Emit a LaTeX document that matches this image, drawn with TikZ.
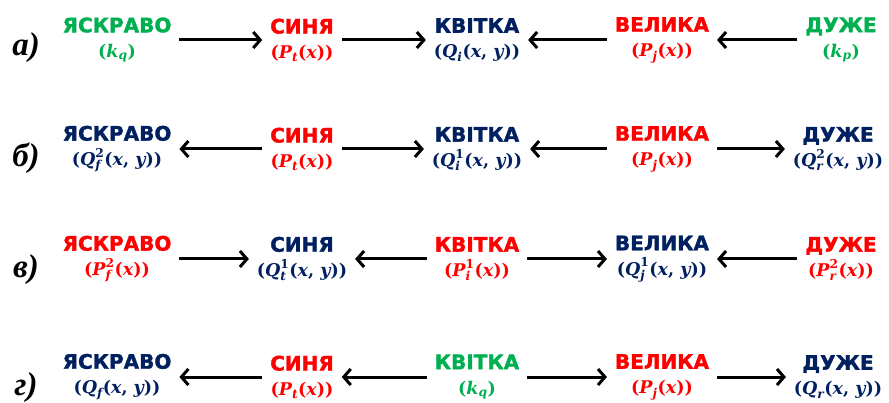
\documentclass[tikz,border=0pt]{standalone}
\usepackage{amsmath}
\usepackage{fontspec}
\usetikzlibrary{arrows.meta}
\newfontfamily\wordfont{DejaVu Sans Bold}[FakeBold=1.6]
\newfontfamily\labfont{Liberation Serif}
\newfontfamily\formfont{DejaVu Serif}
\definecolor{cgreen}{HTML}{00B050}
\definecolor{cred}{HTML}{FF0000}
\definecolor{cblue}{HTML}{002060}
\tikzset{
  term/.style={align=center, inner sep=1pt, outer sep=7pt,
    font=\fontsize{17.5}{25}\selectfont\formfont\bfseries},
  lab/.style={inner sep=0pt, font=\fontsize{33}{33}\selectfont\labfont\bfseries\itshape},
  conn/.style={-{Straight Barb[length=7pt,width=16pt,line width=3pt]}, line width=3pt, black},
}
\newcommand{\W}[1]{{\fontsize{20}{25}\selectfont\wordfont #1}}
\newcommand{\F}[1]{\textit{#1}}
\newcommand{\T}[1]{\text{#1}}
\begin{document}
\begin{tikzpicture}[x=1pt,y=-1pt]
\useasboundingbox (0,0) rectangle (889,403);
% row a
\node[lab] (la) at (26,48) {а)};
\node[term,text=cgreen] (a1) at (117,40) {\W{ЯСКРАВО}\\$\T{(}\F{k}_{\F{q}}\T{)}$};
\node[term,text=cred]   (a2) at (302,40) {\W{СИНЯ}\\$\T{(}\F{P}_{\F{t}}\T{(}\F{x}\T{))}$};
\node[term,text=cblue]  (a3) at (477,40) {\W{КВІТКА}\\$\T{(}\F{Q}_{\F{i}}\T{(}\F{x}\T{, }\F{y}\T{))}$};
\node[term,text=cred]   (a4) at (662,40) {\W{ВЕЛИКА}\\$\T{(}\F{P}_{\F{j}}\T{(}\F{x}\T{))}$};
\node[term,text=cgreen] (a5) at (841,40) {\W{ДУЖЕ}\\$\T{(}\F{k}_{\F{p}}\T{)}$};
\draw[conn] (a1) -- (a2);
\draw[conn] (a2) -- (a3);
\draw[conn] (a4) -- (a3);
\draw[conn] (a5) -- (a4);
% row b
\node[lab] (lb) at (26,158) {б)};
\node[term,text=cblue]  (b1) at (117,149) {\W{ЯСКРАВО}\\$\T{(}\F{Q}_{\F{f}}^{\T{2}}\T{(}\F{x}\T{, }\F{y}\T{))}$};
\node[term,text=cred]   (b2) at (302,149) {\W{СИНЯ}\\$\T{(}\F{P}_{\F{t}}\T{(}\F{x}\T{))}$};
\node[term,text=cblue]  (b3) at (477,149) {\W{КВІТКА}\\$\T{(}\F{Q}_{\F{i}}^{\T{1}}\T{(}\F{x}\T{, }\F{y}\T{))}$};
\node[term,text=cred]   (b4) at (662,149) {\W{ВЕЛИКА}\\$\T{(}\F{P}_{\F{j}}\T{(}\F{x}\T{))}$};
\node[term,text=cblue]  (b5) at (838,149) {\W{ДУЖЕ}\\$\T{(}\F{Q}_{\F{r}}^{\T{2}}\T{(}\F{x}\T{, }\F{y}\T{))}$};
\draw[conn] (b2) -- (b1);
\draw[conn] (b2) -- (b3);
\draw[conn] (b4) -- (b3);
\draw[conn] (b4) -- (b5);
% row c
\node[lab] (lc) at (26,270) {в)};
\node[term,text=cred]   (c1) at (117,259) {\W{ЯСКРАВО}\\$\T{(}\F{P}_{\F{f}}^{\T{2}}\T{(}\F{x}\T{))}$};
\node[term,text=cblue]  (c2) at (302,259) {\W{СИНЯ}\\$\T{(}\F{Q}_{\F{t}}^{\T{1}}\T{(}\F{x}\T{, }\F{y}\T{))}$};
\node[term,text=cred]   (c3) at (477,259) {\W{КВІТКА}\\$\T{(}\F{P}_{\F{i}}^{\T{1}}\T{(}\F{x}\T{))}$};
\node[term,text=cblue]  (c4) at (662,259) {\W{ВЕЛИКА}\\$\T{(}\F{Q}_{\F{j}}^{\T{1}}\T{(}\F{x}\T{, }\F{y}\T{))}$};
\node[term,text=cred]   (c5) at (841,259) {\W{ДУЖЕ}\\$\T{(}\F{P}_{\F{r}}^{\T{2}}\T{(}\F{x}\T{))}$};
\draw[conn] (c1) -- (c2);
\draw[conn] (c3) -- (c2);
\draw[conn] (c3) -- (c4);
\draw[conn] (c5) -- (c4);
% row d
\node[lab] (ld) at (26,388) {г)};
\node[term,text=cblue]  (d1) at (117,377) {\W{ЯСКРАВО}\\$\T{(}\F{Q}_{\F{f}}\T{(}\F{x}\T{, }\F{y}\T{))}$};
\node[term,text=cred]   (d2) at (302,377) {\W{СИНЯ}\\$\T{(}\F{P}_{\F{t}}\T{(}\F{x}\T{))}$};
\node[term,text=cgreen] (d3) at (477,377) {\W{КВІТКА}\\$\T{(}\F{k}_{\F{q}}\T{)}$};
\node[term,text=cred]   (d4) at (662,377) {\W{ВЕЛИКА}\\$\T{(}\F{P}_{\F{j}}\T{(}\F{x}\T{))}$};
\node[term,text=cblue]  (d5) at (838,377) {\W{ДУЖЕ}\\$\T{(}\F{Q}_{\F{r}}\T{(}\F{x}\T{, }\F{y}\T{))}$};
\draw[conn] (d2) -- (d1);
\draw[conn] (d3) -- (d2);
\draw[conn] (d3) -- (d4);
\draw[conn] (d4) -- (d5);
\end{tikzpicture}
\end{document}
